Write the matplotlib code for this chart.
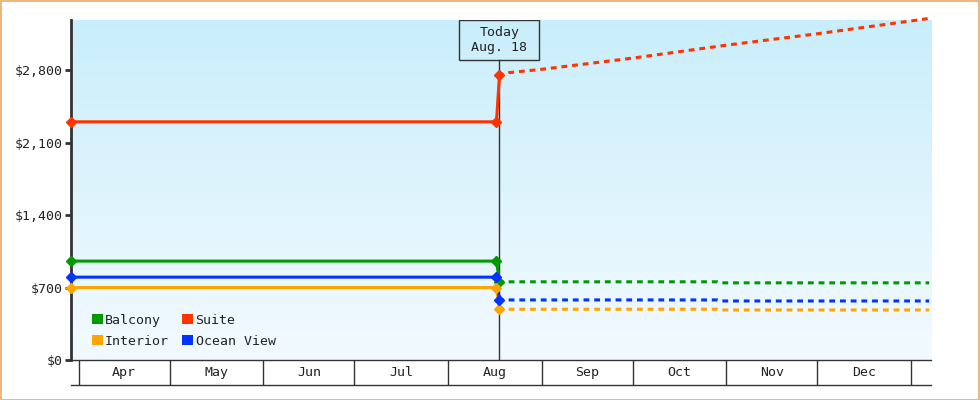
import numpy as np
import matplotlib
matplotlib.use("Agg")
import matplotlib.pyplot as plt
import matplotlib.dates as mdates
from matplotlib.patches import Rectangle, Patch
from matplotlib.ticker import FuncFormatter
import datetime as dt

plt.rcParams['font.family'] = ['DejaVu Sans Mono']

D = dt.date
# Data
series_names = ["Balcony", "Interior", "Suite", "Ocean View"]
colors = {"Balcony": "#009900", "Interior": "#ffa500", "Suite": "#ff3300", "Ocean View": "#0033ff"}

hist_dates = [D(2024, 3, 29), D(2024, 8, 17)]
hist_vals = {"Balcony": [955, 955], "Interior": [700, 700], "Suite": [2300, 2300], "Ocean View": [800, 800]}

today = D(2024, 8, 18)
today_vals = {"Balcony": 755, "Interior": 490, "Suite": 2750, "Ocean View": 580}

fc_dates_flat = [D(2024, 8, 18), D(2024, 8, 21), D(2024, 10, 29), D(2024, 10, 30), D(2025, 1, 7)]
fc_vals = {
    "Balcony": [755, 755, 755, 745, 745],
    "Interior": [490, 490, 490, 483, 483],
    "Ocean View": [580, 580, 580, 570, 570],
}
suite_fc_dates = [D(2024, 8, 18), D(2024, 8, 21), D(2024, 9, 1), D(2024, 10, 1),
                  D(2024, 11, 1), D(2024, 12, 1), D(2025, 1, 7)]
suite_fc_vals = [2750, 2774, 2807, 2915, 3040, 3150, 3298]

months = ["Apr", "May", "Jun", "Jul", "Aug", "Sep", "Oct", "Nov", "Dec"]
month_starts = [D(2024, m, 1) for m in range(4, 13)] + [D(2025, 1, 1)]
yticks = [0, 700, 1400, 2100, 2800]

xmin, xmax = mdates.date2num(D(2024, 3, 29)) + 0.4, mdates.date2num(D(2025, 1, 7)) + 0.6
ymin, ymax = 0, 3283

W, H = 980, 400
fig = plt.figure(figsize=(W / 100, H / 100), dpi=100)
fig.patch.set_facecolor("white")
fig.add_artist(Rectangle((0.5 / W, 0.5 / H), 1 - 1.5 / W, 1 - 1.5 / H, transform=fig.transFigure,
                         fill=False, edgecolor="#e8aa66", lw=1.2))

L, R, T, B = 71, 931, 20, 360
ax = fig.add_axes([L / W, (H - B) / H, (R - L) / W, (B - T) / H])
ax.set_xlim(xmin, xmax)
ax.set_ylim(ymin, ymax)

# gradient background
grad = np.linspace(0, 1, 256).reshape(-1, 1)
top = np.array(matplotlib.colors.to_rgb("#c9eefb"))
bot = np.array(matplotlib.colors.to_rgb("#f3faff"))
img = top[None, None, :] * (1 - grad[:, :, None]) + bot[None, None, :] * grad[:, :, None]
ax.imshow(img, extent=[0, 1, 0, 1], transform=ax.transAxes, aspect="auto", zorder=0, origin="upper")
ax.set_facecolor("none")

dark = "#333333"
# today line
tx = mdates.date2num(today)
tx_frac = (tx - xmin) / (xmax - xmin)
box_h = 40 / (B - T)
ax.plot([tx, tx], [0, 1 - box_h], transform=ax.get_xaxis_transform(), color=dark, lw=1, zorder=2)
ax.add_patch(Rectangle((tx_frac - 40 / (R - L), 1 - box_h), 80 / (R - L), box_h, transform=ax.transAxes,
                       fill=False, edgecolor=dark, lw=1, zorder=3))
ax.text(tx_frac, 1 - box_h / 2, "Today\nAug. 18", transform=ax.transAxes, ha="center", va="center",
        fontsize=9.5, color="#222222", linespacing=1.25, zorder=4)

lw = 2.2
for name in ["Balcony", "Interior", "Ocean View", "Suite"]:
    c = colors[name]
    hd = [mdates.date2num(d) for d in hist_dates]
    hd[0] = xmin
    if name == "Suite":
        fd = [mdates.date2num(d) for d in suite_fc_dates]
        fv = suite_fc_vals
    else:
        fd = [mdates.date2num(d) for d in fc_dates_flat]
        fv = fc_vals[name]
    ax.plot(hd + [tx], hist_vals[name] + [today_vals[name]], color=c, lw=lw, zorder=5, clip_on=False)
    ax.plot(hd + [tx], hist_vals[name] + [today_vals[name]], ls="none", marker="D", ms=5,
            color=c, zorder=6, clip_on=False)
    ax.plot(fd, fv, color=c, lw=lw, ls=(4, (1.9, 1.6)), zorder=5, clip_on=False, dash_capstyle="butt")

# axes styling
for s in ["top", "right"]:
    ax.spines[s].set_visible(False)
ax.spines["left"].set_color(dark)
ax.spines["left"].set_linewidth(2)
ax.spines["bottom"].set_color(dark)
ax.spines["bottom"].set_linewidth(1)
ax.set_yticks(yticks)
ax.yaxis.set_major_formatter(FuncFormatter(lambda v, p: "${:,.0f}".format(v)))
ax.tick_params(axis="y", direction="out", length=4, width=2, color=dark, labelsize=9.5,
               labelcolor="#222222", pad=2)
ax.set_xticks([])

# legend
handles = [Patch(facecolor=colors[n], edgecolor="none", label=n) for n in series_names]
leg = fig.legend(handles=handles, ncol=2, loc="upper left",
                 bbox_to_anchor=(92 / W, (H - 314) / H), frameon=False, fontsize=9.5,
                 handlelength=0.8, handleheight=0.8, handletextpad=0.2, columnspacing=1.0,
                 labelspacing=0.58, borderpad=0, borderaxespad=0)
for t in leg.get_texts():
    t.set_color("#222222")

# bottom month band
bx = fig.add_axes([L / W, (H - 385) / H, (R - L) / W, 25 / H])
bx.set_xlim(xmin, xmax)
bx.set_ylim(0, 1)
bx.set_facecolor("none")
for s in ["left", "right", "top"]:
    bx.spines[s].set_visible(False)
bx.spines["bottom"].set_color(dark)
bx.spines["bottom"].set_linewidth(1)
bx.set_xticks([])
bx.set_yticks([])
for d in month_starts:
    bx.axvline(mdates.date2num(d), color=dark, lw=1)
for i, m in enumerate(months):
    a = mdates.date2num(month_starts[i])
    b = mdates.date2num(month_starts[i + 1])
    bx.text((a + b) / 2, 0.5, m, ha="center", va="center", fontsize=9.5, color="#222222")

fig.savefig("out.png", dpi=100)
